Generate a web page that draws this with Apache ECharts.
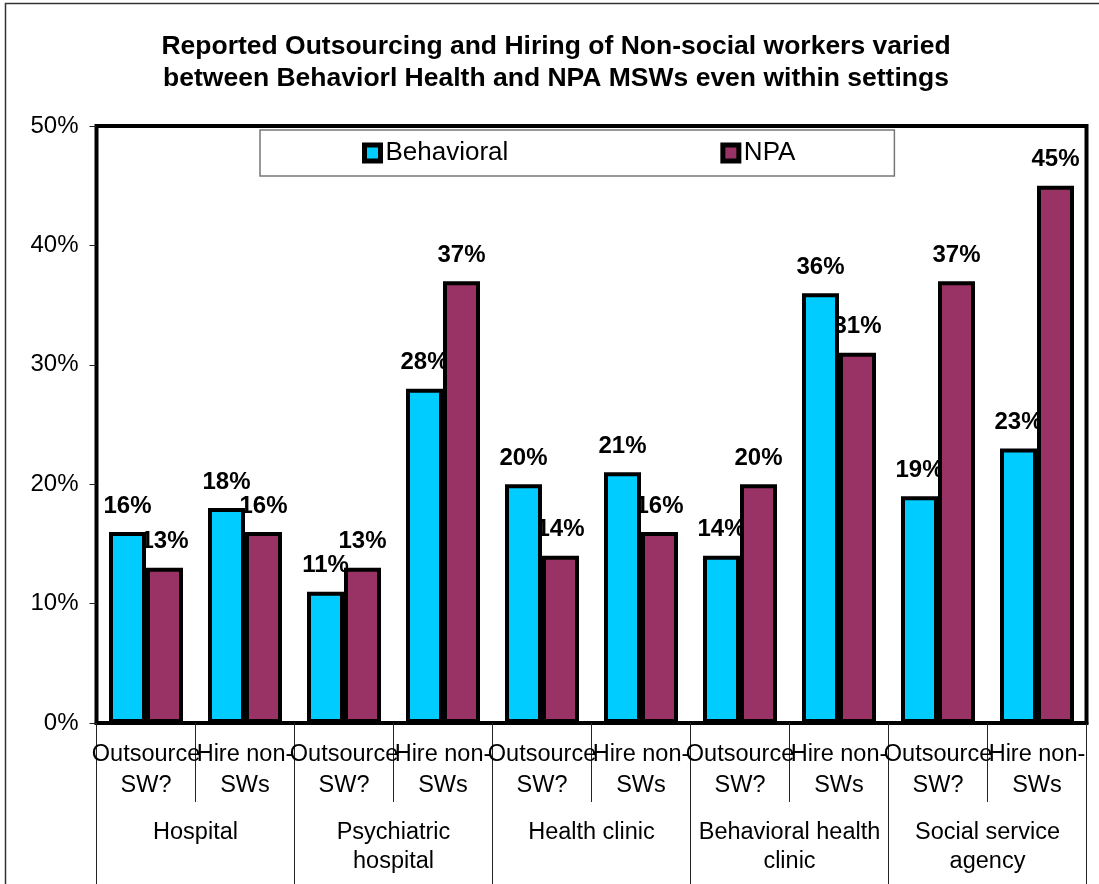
<!DOCTYPE html>
<html>
<head>
<meta charset="utf-8">
<script src="https://cdn.jsdelivr.net/npm/echarts@6/dist/echarts.min.js"></script>
<style>
  html, body { margin: 0; padding: 0; background: #fff; }
  #chart { width: 1099px; height: 884px; }
</style>
</head>
<body>
<div id="chart"></div>
<script>
// Survey results: share of MSWs reporting outsourcing / hiring non-social workers
const questions = ['Outsource\nSW?', 'Hire non-\nSWs', 'Outsource\nSW?', 'Hire non-\nSWs', 'Outsource\nSW?',
                   'Hire non-\nSWs', 'Outsource\nSW?', 'Hire non-\nSWs', 'Outsource\nSW?', 'Hire non-\nSWs'];
const settings = ['Hospital', 'Psychiatric\nhospital', 'Health clinic', 'Behavioral health\nclinic', 'Social service\nagency'];
const behavioral = [16, 18, 11, 28, 20, 21, 14, 36, 19, 23];
const npa = [13, 16, 13, 37, 14, 16, 20, 31, 37, 45];
const yTicks = [0, 10, 20, 30, 40, 50];
const titleText = 'Reported Outsourcing and Hiring of Non-social workers varied\nbetween Behaviorl Health and NPA MSWs even within settings';

const FONT = 'Arial, "Liberation Sans", Helvetica, sans-serif';
const CYAN = '#00CCFF';
const MAROON = '#993366';

const chart = echarts.init(document.getElementById('chart'), null, { renderer: 'canvas' });

const barStyle = color => ({ color: color, borderColor: '#000', borderWidth: 4 });
const labelStyle = {
  show: true,
  position: 'top',
  distance: 14,
  formatter: '{c}%',
  fontFamily: FONT,
  fontSize: 24,
  fontWeight: 'bold',
  color: '#000'
};

chart.setOption({
  animation: false,
  backgroundColor: '#fff',
  textStyle: { fontFamily: FONT },
  legend: {
    data: ['Behavioral', 'NPA'],
    left: 260,
    top: 130,
    padding: [10, 99, 10, 102],
    itemGap: 212,
    itemWidth: 16,
    itemHeight: 16,
    icon: 'rect',
    itemStyle: { borderColor: '#000', borderWidth: 5 },
    backgroundColor: '#fff',
    borderColor: '#777',
    borderWidth: 1.5,
    textStyle: { fontFamily: FONT, fontSize: 26, color: '#000', padding: [0, 0, 0, 0] }
  },
  graphic: [
    {
      type: 'rect',
      shape: { x: 5.5, y: 3.5, width: 1200, height: 1000 },
      style: { fill: 'none', stroke: '#333', lineWidth: 1.5 },
      silent: true,
      z: -1
    },
    {
      type: 'text',
      x: 556,
      y: 31,
      silent: true,
      style: {
        text: titleText,
        fontFamily: FONT,
        fontSize: 26.5,
        fontWeight: 'bold',
        lineHeight: 32,
        fill: '#000',
        align: 'center',
        verticalAlign: 'top'
      }
    }
  ],
  grid: {
    left: 96.5,
    right: 12.5,
    top: 126,
    bottom: 161,
    show: true,
    borderColor: '#000',
    borderWidth: 4,
    backgroundColor: 'transparent',
    containLabel: false,
    outerBoundsMode: 'none'
  },
  xAxis: [
    {
      type: 'category',
      data: questions,
      position: 'bottom',
      axisLine: { show: true, lineStyle: { color: '#000', width: 4 } },
      axisTick: { show: true, interval: 0, length: 79, lineStyle: { color: '#222', width: 1 } },
      axisLabel: {
        interval: 0, margin: 16, fontFamily: FONT, fontSize: 23.5, lineHeight: 31, color: '#000'
      }
    },
    {
      type: 'category',
      data: settings,
      position: 'bottom',
      offset: 0,
      axisLine: { show: false },
      axisTick: { show: true, interval: 0, length: 170, lineStyle: { color: '#222', width: 1 } },
      axisLabel: {
        interval: 0, margin: 95, fontFamily: FONT, fontSize: 23.5, lineHeight: 29, color: '#000'
      }
    },
    {
      // carries the value labels so they sit beneath the bars
      type: 'category',
      data: questions,
      position: 'bottom',
      show: false
    }
  ],
  yAxis: {
    type: 'value',
    min: yTicks[0],
    max: yTicks[yTicks.length - 1],
    interval: yTicks[1] - yTicks[0],
    axisLine: { show: false },
    axisTick: { show: true, length: 7, lineStyle: { color: '#222', width: 1 } },
    splitLine: { show: false },
    axisLabel: { formatter: '{value}%', margin: 18, fontFamily: FONT, fontSize: 24, color: '#000' }
  },
  series: [
    {
      name: 'Behavioral', type: 'bar', xAxisIndex: 0, data: behavioral,
      barWidth: 37, barGap: '0%', itemStyle: barStyle(CYAN), z: 5
    },
    {
      name: 'NPA', type: 'bar', xAxisIndex: 0, data: npa,
      barWidth: 37, barGap: '0%', itemStyle: barStyle(MAROON), z: 5
    },
    {
      name: 'Behavioral values', type: 'bar', xAxisIndex: 2, data: behavioral,
      barWidth: 37, barGap: '0%', silent: true, z: 1,
      itemStyle: { color: 'transparent', borderWidth: 0 },
      label: labelStyle
    },
    {
      name: 'NPA values', type: 'bar', xAxisIndex: 2, data: npa,
      barWidth: 37, barGap: '0%', silent: true, z: 1,
      itemStyle: { color: 'transparent', borderWidth: 0 },
      label: labelStyle
    }
  ]
});
</script>
</body>
</html>
